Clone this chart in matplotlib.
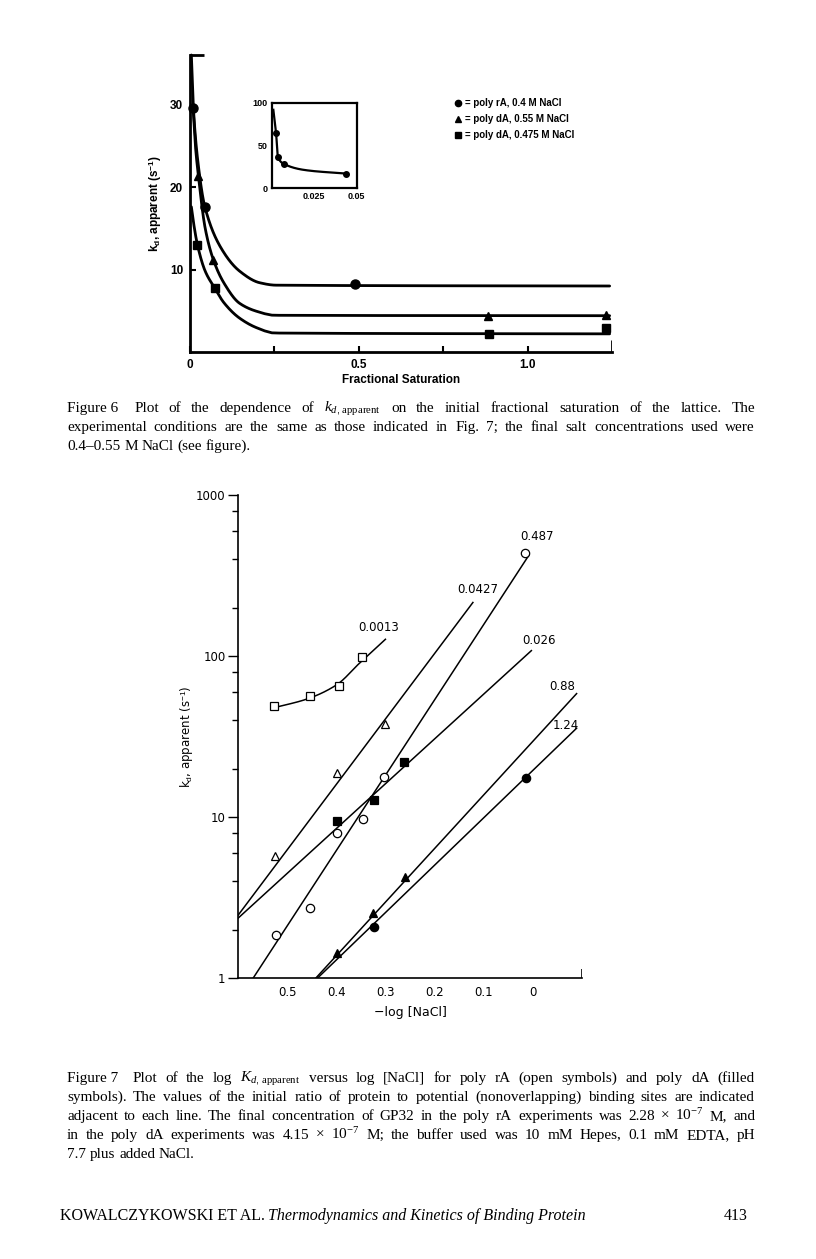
import numpy as np
import matplotlib
matplotlib.use("Agg")
import matplotlib.pyplot as plt

# ---------------- data: Figure 6 ----------------
fs_circle_x = [0.010, 0.044, 0.49]
fs_circle_y = [29.6, 17.6, 8.2]
fs_tri_x = [0.025, 0.069, 0.884, 1.233]
fs_tri_y = [21.3, 11.2, 4.4, 4.5]
fs_sq_x = [0.022, 0.074, 0.886, 1.233]
fs_sq_y = [13.0, 7.7, 2.2, 2.9]

# hand-drawn curves
curve_circle_x = [0.004, 0.010, 0.025, 0.044, 0.098, 0.147, 0.206, 0.255, 1.243]
curve_circle_y = [36.0, 29.6, 22.5, 17.6, 12.2, 9.8, 8.4, 8.1, 8.0]
curve_tri_x = [0.010, 0.016, 0.025, 0.045, 0.069, 0.100, 0.147, 0.200, 0.250, 1.243]
curve_tri_y = [29.0, 25.0, 21.3, 15.0, 11.2, 8.4, 5.9, 4.9, 4.45, 4.4]
curve_sq_x = [0.004, 0.010, 0.022, 0.045, 0.074, 0.100, 0.147, 0.200, 0.250, 1.243]
curve_sq_y = [17.6, 15.8, 13.0, 9.8, 7.7, 6.0, 4.1, 2.9, 2.3, 2.2]

inset_pts_x = [0.0024, 0.0036, 0.0074, 0.044]
inset_pts_y = [65, 36, 28, 17]
inset_curve_x = [0.0008, 0.0024, 0.0036, 0.0074, 0.020, 0.044]
inset_curve_y = [92, 65, 36, 28, 21, 17]

legend6_labels = ["= poly rA, 0.4 M NaCl", "= poly dA, 0.55 M NaCl", "= poly dA, 0.475 M NaCl"]
legend6_markers = ["o", "^", "s"]

# ---------------- data: Figure 7 ----------------
sq_open_x = [0.526, 0.454, 0.394, 0.348]
sq_open_y = [48.6, 56.4, 64.7, 98.0]
sq_curve_x = [0.530, 0.460, 0.400, 0.350, 0.300]
sq_curve_y = [47.5, 54.0, 66.0, 92.0, 127.0]

tri_open_x = [0.524, 0.398, 0.300]
tri_open_y = [5.75, 18.8, 37.8]
circ_open_x = [0.522, 0.454, 0.398, 0.346, 0.302, 0.017]
circ_open_y = [1.85, 2.71, 8.0, 9.65, 17.8, 436.0]
sq_fill_x = [0.398, 0.323, 0.263]
sq_fill_y = [9.5, 12.7, 21.9]
tri_fill_x = [0.399, 0.325, 0.260]
tri_fill_y = [1.42, 2.55, 4.23]
circ_fill_x = [0.323, 0.013]
circ_fill_y = [2.08, 17.5]

# straight fitted lines: (x0, y0, x1, y1)
line_0427 = (0.600, 2.45, 0.122, 215.0)
line_0487 = (0.569, 1.00, 0.008, 423.0)
line_026 = (0.600, 2.35, 0.003, 108.0)
line_088 = (0.4415, 1.00, -0.089, 58.4)
line_124 = (0.438, 1.00, -0.089, 35.6)

line_labels = ["0.487", "0.0427", "0.0013", "0.026", "0.88", "1.24"]
label_x = [-0.009, 0.112, 0.314, -0.012, -0.059, -0.067]
label_y = [555, 258, 151, 125, 64.7, 36.9]

x7_ticks = [0.5, 0.4, 0.3, 0.2, 0.1, 0.0]
x7_ticklabels = ["0.5", "0.4", "0.3", "0.2", "0.1", "0"]
y7_ticks = [1, 10, 100, 1000]
y7_ticklabels = ["1", "10", "100", "1000"]

# ---------------- helpers ----------------
W, H = 816, 1259
plt.rcParams['mathtext.fontset'] = 'custom'
plt.rcParams['mathtext.rm'] = 'Liberation Sans'
plt.rcParams['mathtext.bf'] = 'Liberation Sans:bold'
plt.rcParams['mathtext.it'] = 'Liberation Serif:italic'
plt.rcParams['mathtext.sf'] = 'Liberation Serif'

fig = plt.figure(figsize=(W / 100, H / 100), dpi=100)


def fx(px):
    return px / W


def fy(py):
    return 1 - py / H


def pchip(x, y, xs):
    x = np.asarray(x, float)
    y = np.asarray(y, float)
    h = np.diff(x)
    d = np.diff(y) / h
    n = len(x)
    m = np.zeros(n)
    for k in range(1, n - 1):
        if d[k - 1] * d[k] > 0:
            w1 = 2 * h[k] + h[k - 1]
            w2 = h[k] + 2 * h[k - 1]
            m[k] = (w1 + w2) / (w1 / d[k - 1] + w2 / d[k])
    m[0] = d[0]
    m[-1] = d[-1]
    out = np.empty_like(xs)
    idx = np.clip(np.searchsorted(x, xs) - 1, 0, n - 2)
    for i, (xv, k) in enumerate(zip(xs, idx)):
        t = (xv - x[k]) / h[k]
        h00 = 2 * t**3 - 3 * t**2 + 1
        h10 = t**3 - 2 * t**2 + t
        h01 = -2 * t**3 + 3 * t**2
        h11 = t**3 - t**2
        out[i] = h00 * y[k] + h10 * h[k] * m[k] + h01 * y[k + 1] + h11 * h[k] * m[k + 1]
    return out


def smooth(x, y, n=400, logy=False):
    order = np.argsort(x)
    x = np.asarray(x, float)[order]
    y = np.asarray(y, float)[order]
    if logy:
        y = np.log10(y)
    j = min(len(x) - 1, 7)
    xs = np.concatenate([np.linspace(x[0], x[j], n), np.linspace(x[j], x[-1], 50)])
    ys = pchip(x, y, xs)
    if logy:
        ys = 10 ** ys
    return xs, ys


# ================= Figure 6 =================
f6 = dict(family='Liberation Sans', fontweight='bold')
ax6 = fig.add_axes([fx(190), fy(352), fx(612) - fx(190), fy(55) - fy(352)])
ax6.set_xlim(0, 1.25)
ax6.set_ylim(0, 36)
for s in ['top', 'right']:
    ax6.spines[s].set_visible(False)
for s in ['left', 'bottom']:
    ax6.spines[s].set_linewidth(2.0)

for cx, cy in [(curve_circle_x, curve_circle_y), (curve_tri_x, curve_tri_y), (curve_sq_x, curve_sq_y)]:
    xs, ys = smooth(cx, cy)
    ax6.plot(xs, ys, color='black', lw=2.0, clip_on=False, solid_capstyle='round')
ax6.plot(fs_circle_x, fs_circle_y, 'o', color='black', ms=6.5, clip_on=False)
ax6.plot(fs_tri_x, fs_tri_y, '^', color='black', ms=6.0, clip_on=False)
ax6.plot(fs_sq_x, fs_sq_y, 's', color='black', ms=6.0, clip_on=False)
ax6.vlines(ax6.get_xlim()[1], 0, 1.4, color='black', lw=2.0)

ax6.set_xticks([0, 0.5, 1.0])
ax6.set_xticklabels(["0", "0.5", "1.0"])
ax6.set_xticks([0.25, 0.75], minor=True)
ax6.set_yticks([10, 20, 30])
ax6.set_yticks([36], minor=True)
ax6.tick_params(axis='both', which='both', direction='in', length=4, width=1.5, labelsize=8.5, pad=5)
ax6.tick_params(axis='y', which='minor', length=10, width=2)
for lab in ax6.get_xticklabels() + ax6.get_yticklabels():
    lab.set_fontfamily('Liberation Sans')
    lab.set_fontweight('bold')
ax6.set_xlabel("Fractional Saturation", fontsize=8.5, labelpad=2, **f6)
ax6.set_ylabel(r"$\mathbf{k_d}$, apparent (s$^{\mathbf{-1}}$)", fontsize=8.5, labelpad=4, **f6)

# legend
for i, (mk, lab) in enumerate(zip(legend6_markers, legend6_labels)):
    yy = [103, 119, 135][i]
    fig.lines.append(plt.Line2D([fx(458)], [fy(yy)], marker=mk, color='black', ms=4.5,
                                transform=fig.transFigure, figure=fig))
    fig.text(fx(465), fy(yy), lab, fontsize=7, va='center', ha='left', **f6)

# inset
axi = fig.add_axes([fx(272), fy(188), fx(357) - fx(272), fy(103) - fy(188)])
axi.set_xlim(0, 0.0505)
axi.set_ylim(0, 100)
for s in axi.spines.values():
    s.set_linewidth(1.6)
xs, ys = smooth(inset_curve_x, inset_curve_y)
axi.plot(xs, ys, color='black', lw=1.6)
axi.plot(inset_pts_x, inset_pts_y, 'o', color='black', ms=4)
axi.set_xticks([0.025, 0.05])
axi.set_xticklabels(["0.025", "0.05"])
axi.set_yticks([0, 50, 100])
axi.set_yticklabels(["0", "50", "100"])
axi.tick_params(axis='both', length=0, labelsize=6.5, pad=3)
for lab in axi.get_xticklabels() + axi.get_yticklabels():
    lab.set_fontfamily('Liberation Sans')
    lab.set_fontweight('bold')

# ================= Figure 7 =================
f7 = dict(family='DejaVu Sans')
ax7 = fig.add_axes([fx(238), fy(978), fx(582) - fx(238), fy(495) - fy(978)])
ax7.set_yscale('log')
ax7.set_xlim(0.6, -0.1)
ax7.set_ylim(1, 1000)
for s in ['top', 'right']:
    ax7.spines[s].set_visible(False)
for s in ['left', 'bottom']:
    ax7.spines[s].set_linewidth(1.2)

for (x0, y0, x1, y1) in [line_0427, line_0487, line_026, line_088, line_124]:
    ax7.plot([x0, x1], [y0, y1], color='black', lw=1.1)
xs, ys = smooth(sq_curve_x, sq_curve_y, logy=True)
ax7.plot(xs, ys, color='black', lw=1.1)

mkw = dict(ls='none', ms=6.0, mec='black', mew=0.9, clip_on=False)
ax7.plot(sq_open_x, sq_open_y, marker='s', mfc='white', **mkw)
ax7.plot(tri_open_x, tri_open_y, marker='^', mfc='white', **mkw)
ax7.plot(circ_open_x, circ_open_y, marker='o', mfc='white', **mkw)
ax7.plot(sq_fill_x, sq_fill_y, marker='s', mfc='black', **mkw)
ax7.plot(tri_fill_x, tri_fill_y, marker='^', mfc='black', **mkw)
ax7.plot(circ_fill_x, circ_fill_y, marker='o', mfc='black', **mkw)

for t, lx, ly in zip(line_labels, label_x, label_y):
    ax7.text(lx, ly, t, fontsize=8.5, ha='center', va='center', **f7)

ax7.vlines(ax7.get_xlim()[1], 1, 1.14, color='black', lw=1.2)
ax7.set_xticks(x7_ticks)
ax7.set_xticklabels(x7_ticklabels)
ax7.tick_params(axis='x', length=0, pad=6, labelsize=8.5)
ax7.set_yticks(y7_ticks)
ax7.set_yticklabels(y7_ticklabels)
minor = [m * 10**e for e in range(0, 3) for m in (2, 4, 6, 8)]
ax7.set_yticks(minor, minor=True)
ax7.yaxis.set_minor_formatter(matplotlib.ticker.NullFormatter())
ax7.tick_params(axis='y', which='major', direction='out', length=7, width=1.0, labelsize=8.5, pad=2)
ax7.tick_params(axis='y', which='minor', direction='out', length=4, width=1.0)
for lab in ax7.get_xticklabels() + ax7.get_yticklabels():
    lab.set_fontfamily('DejaVu Sans')
ax7.set_xlabel("\u2212log [NaCl]", fontsize=9, labelpad=5, **f7)
ax7.set_ylabel(r"k$_{\mathrm{d}}$, apparent (s$^{-\mathrm{1}}$)", fontsize=8.5, labelpad=0, **f7)

# ================= captions =================
renderer = fig.canvas.get_renderer()
SERIF = 'Liberation Serif'


def text_line(tokens, x0, x1, ybase, size, justify=True, first_gap=0.0, **kw):
    objs = [fig.text(0, fy(ybase), t, fontsize=size, family=SERIF, va='baseline', ha='left', **kw)
            for t in tokens]
    widths = [o.get_window_extent(renderer).width for o in objs]
    if justify and len(tokens) > 1:
        gap = (x1 - x0 - sum(widths) - first_gap) / (len(tokens) - 1)
    else:
        gap = size * 100 / 72 * 0.25
    x = x0
    for i, (o, w) in enumerate(zip(objs, widths)):
        o.set_x(fx(x))
        x += w + gap + (first_gap if i == 0 else 0)


KAPP6 = r"$\mathit{k}_{\mathit{d},\,\mathsf{apparent}}$"
KAPP7 = r"$\mathit{K}_{\mathit{d},\,\mathsf{apparent}}$"
EXP7 = r"10$^{\mathsf{-7}}$"
cap6 = [
    ("Figure\u00a06 Plot of the dependence of " + KAPP6 + " on the initial fractional saturation of the lattice. The", True),
    ("experimental conditions are the same as those indicated in Fig. 7; the final salt concentrations used were", True),
    ("0.4\u20130.55 M NaCl (see figure).", False),
]
cap7 = [
    ("Figure\u00a07 Plot of the log " + KAPP7 + " versus log [NaCl] for poly rA (open symbols) and poly dA (filled", True),
    ("symbols). The values of the initial ratio of protein to potential (nonoverlapping) binding sites are indicated", True),
    ("adjacent to each line. The final concentration of GP32 in the poly rA experiments was 2.28 \u00d7 " + EXP7 + " M, and", True),
    ("in the poly dA experiments was 4.15 \u00d7 " + EXP7 + " M; the buffer used was 10 mM Hepes, 0.1 mM EDTA, pH", True),
    ("7.7 plus added NaCl.", False),
]
CAP_SIZE = 11
for i, (line, just) in enumerate(cap6):
    text_line(line.split(" "), 67, 755, 412 + 19 * i, CAP_SIZE, justify=just, first_gap=6 if i == 0 else 0)
for i, (line, just) in enumerate(cap7):
    text_line(line.split(" "), 67, 755, 1082 + 19 * i, CAP_SIZE, justify=just, first_gap=6 if i == 0 else 0)

# footer
fig.text(fx(60), fy(1220), "KOWALCZYKOWSKI ET AL.", fontsize=11.5, family=SERIF, va='baseline', ha='left')
fig.text(fx(268), fy(1220), "Thermodynamics and Kinetics of Binding Protein", fontsize=11.5, family=SERIF,
         style='italic', va='baseline', ha='left')
fig.text(fx(748), fy(1220), "413", fontsize=11.5, family=SERIF, va='baseline', ha='right')

fig.savefig("out.png", dpi=100, facecolor='white')
